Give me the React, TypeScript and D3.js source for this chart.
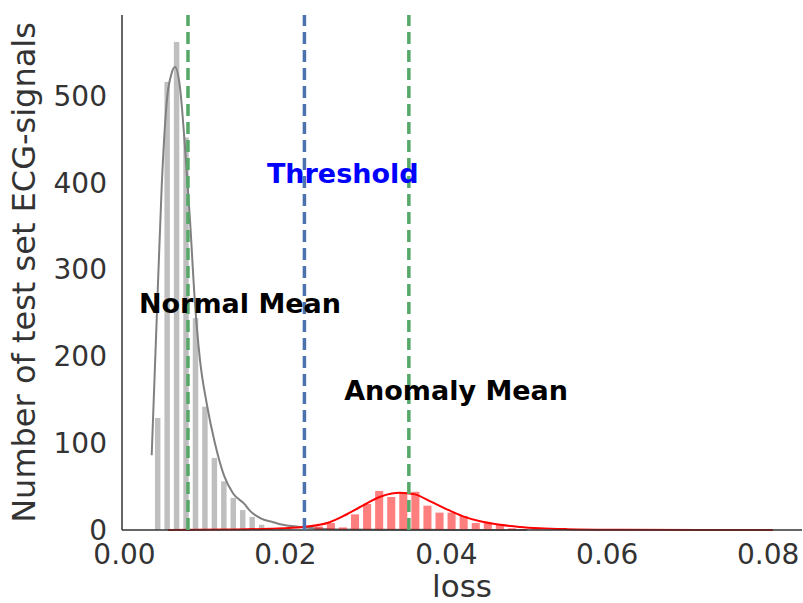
import React, { useEffect, useRef } from 'react';
import * as d3 from 'd3';

// histogram of reconstruction loss, normal signals (grey)
const normalBinStart = 0.00354;
const normalBinWidth = 0.001174;
const normalCounts = [129, 516, 562, 452, 244, 142, 83, 56, 37, 23, 15, 6, 2, 1, 1];

// anomalies (red)
const anomalyBinStart = 0.0234;
const anomalyBinWidth = 0.0015;
const anomalyCounts = [4, 8, 3, 18, 30, 45, 38, 43, 44, 28, 20, 20, 16, 8, 8, 7, 2, 1, 1];

// kde curves
const normalKdeLoss = [0.00338, 0.004, 0.00462, 0.00524, 0.00586, 0.00627, 0.00689, 0.00752, 0.00814, 0.00876, 0.00938, 0.01021, 0.01124, 0.0124, 0.0135, 0.0149, 0.0156, 0.017, 0.0185, 0.0197, 0.0218, 0.0243, 0.028, 0.034, 0.042, 0.05];
const normalKdeValue = [86, 242, 395, 492, 526, 533, 510, 441, 357, 261, 196, 146, 100, 62, 42, 30, 22, 13, 9, 6, 3.5, 1.5, 0.6, 0.3, 0.1, 0];

const anomalyKdeLoss = [0.0054, 0.0125, 0.0181, 0.0222, 0.0255, 0.0274, 0.0296, 0.0317, 0.0332, 0.0342, 0.0361, 0.038, 0.0398, 0.042, 0.0442, 0.0467, 0.0491, 0.0516, 0.055, 0.0616, 0.0715, 0.0806];
const anomalyKdeValue = [0, 0.5, 1.5, 3.5, 9, 17, 28, 38, 42, 43, 41, 33, 25, 16, 10, 6, 3.5, 2, 1, 0.3, 0.05, 0];

// vertical markers
const normalMean = 0.00789;
const threshold = 0.02236;
const anomalyMean = 0.03534;

const labels = ['Normal Mean', 'Threshold', 'Anomaly Mean'];
const labelLoss = [0.0018, 0.0177, 0.0273];
const labelCount = [250, 400, 150];
const labelColors = ['#000000', '#0000ff', '#000000'];

const xTicks = [0, 0.02, 0.04, 0.06, 0.08];
const yTicks = [0, 100, 200, 300, 400, 500];

const App = () => {
    const svgRef = useRef<SVGSVGElement>(null);

    useEffect(() => {
        const svg = d3.select(svgRef.current);
        svg.selectAll('*').remove();

        const width = 803;
        const height = 603;
        const left = 122, right = 802, top = 15, bottom = 530;
        const font = 'DejaVu Sans, sans-serif';

        const x = d3.scaleLinear().domain([-0.00031, 0.0842]).range([left, right]);
        const y = d3.scaleLinear().domain([0, 593]).range([bottom, top]);

        svg.attr('width', width).attr('height', height);

        const gap = 2;
        const drawHist = (start: number, w: number, counts: number[], color: string) => {
            svg.append('g')
                .selectAll('rect')
                .data(counts)
                .join('rect')
                .attr('x', (d, i) => x(start + i * w) + gap)
                .attr('width', x(start + w) - x(start) - 2 * gap)
                .attr('y', d => y(d))
                .attr('height', d => y(0) - y(d))
                .attr('fill', color)
                .attr('fill-opacity', 0.5);
        };

        const kde = (lx: number[], ly: number[]) =>
            d3.line<number>()
                .x((d, i) => x(lx[i]))
                .y(d => y(d))
                .curve(d3.curveMonotoneX)(ly);

        drawHist(normalBinStart, normalBinWidth, normalCounts, '#808080');
        svg.append('path')
            .attr('d', kde(normalKdeLoss, normalKdeValue))
            .attr('fill', 'none')
            .attr('stroke', '#808080')
            .attr('stroke-width', 2);

        drawHist(anomalyBinStart, anomalyBinWidth, anomalyCounts, '#ff0000');
        svg.append('path')
            .attr('d', kde(anomalyKdeLoss, anomalyKdeValue))
            .attr('fill', 'none')
            .attr('stroke', '#ff0000')
            .attr('stroke-width', 2);

        // axes (despined: left + bottom only)
        svg.append('line')
            .attr('x1', left).attr('x2', left).attr('y1', top).attr('y2', bottom)
            .attr('stroke', '#333333').attr('stroke-width', 1.5);
        svg.append('line')
            .attr('x1', left).attr('x2', right).attr('y1', bottom).attr('y2', bottom)
            .attr('stroke', '#333333').attr('stroke-width', 1.5);

        // mean / threshold lines
        const vlines = [
            { v: normalMean, c: '#55a868' },
            { v: threshold, c: '#4c72b0' },
            { v: anomalyMean, c: '#55a868' },
        ];
        svg.append('g')
            .selectAll('line')
            .data(vlines)
            .join('line')
            .attr('x1', d => x(d.v)).attr('x2', d => x(d.v))
            .attr('y1', y(0)).attr('y2', top)
            .attr('stroke', d => d.c)
            .attr('stroke-width', 3.5)
            .attr('stroke-dasharray', '12,6');

        svg.append('g')
            .selectAll('text')
            .data(labels)
            .join('text')
            .attr('x', (d, i) => x(labelLoss[i]))
            .attr('y', (d, i) => y(labelCount[i]))
            .attr('fill', (d, i) => labelColors[i])
            .style('font-family', font)
            .style('font-weight', 'bold')
            .style('font-size', '27px')
            .text(d => d);

        // tick labels
        svg.append('g')
            .selectAll('text')
            .data(xTicks)
            .join('text')
            .attr('x', d => x(d))
            .attr('y', 564)
            .attr('text-anchor', 'middle')
            .attr('fill', '#333333')
            .style('font-family', font)
            .style('font-size', '28px')
            .text(d => d3.format('.2f')(d));

        svg.append('g')
            .selectAll('text')
            .data(yTicks)
            .join('text')
            .attr('x', 107)
            .attr('y', d => y(d) + 10)
            .attr('text-anchor', 'end')
            .attr('fill', '#333333')
            .style('font-family', font)
            .style('font-size', '28px')
            .text(d => d);

        svg.append('text')
            .attr('x', (left + right) / 2)
            .attr('y', 597)
            .attr('text-anchor', 'middle')
            .attr('fill', '#333333')
            .style('font-family', font)
            .style('font-size', '31px')
            .text('loss');

        svg.append('text')
            .attr('transform', `translate(35,${(top + bottom) / 2}) rotate(-90)`)
            .attr('text-anchor', 'middle')
            .attr('fill', '#333333')
            .style('font-family', font)
            .style('font-size', '32px')
            .text('Number of test set ECG-signals');
    }, []);

    return (
        <svg ref={svgRef} style={{ position: 'absolute', left: 0, top: 0 }} />
    );
};

export default App;
